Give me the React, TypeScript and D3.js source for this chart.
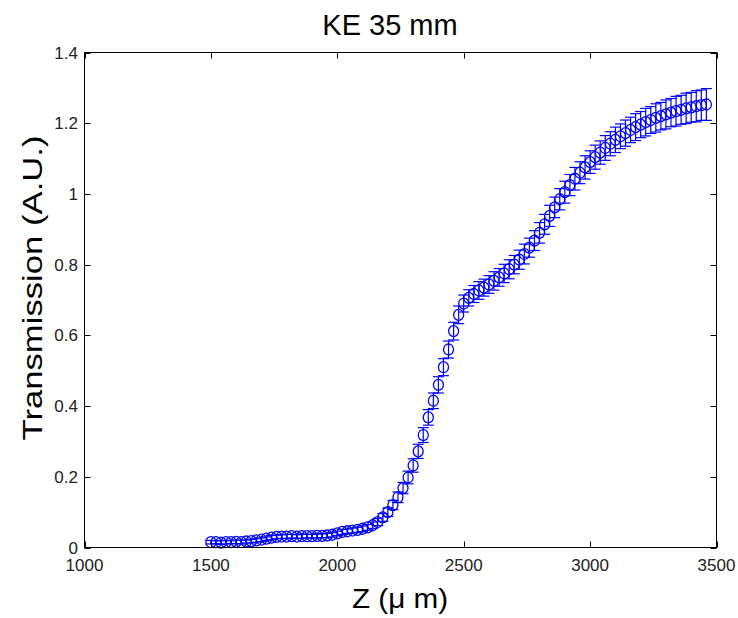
import React from "react";
import * as d3 from "d3";

// Scan positions (µm)
const zPositions: number[] = [
  1500, 1520, 1540, 1560, 1580, 1600, 1620, 1640, 1660, 1680,
  1700, 1720, 1740, 1760, 1780, 1800, 1820, 1840, 1860, 1880,
  1900, 1920, 1940, 1960, 1980, 2000, 2020, 2040, 2060, 2080,
  2100, 2120, 2140, 2160, 2180, 2200, 2220, 2240, 2260, 2280,
  2300, 2320, 2340, 2360, 2380, 2400, 2420, 2440, 2460, 2480,
  2500, 2520, 2540, 2560, 2580, 2600, 2620, 2640, 2660, 2680,
  2700, 2720, 2740, 2760, 2780, 2800, 2820, 2840, 2860, 2880,
  2900, 2920, 2940, 2960, 2980, 3000, 3020, 3040, 3060, 3080,
  3100, 3120, 3140, 3160, 3180, 3200, 3220, 3240, 3260, 3280,
  3300, 3320, 3340, 3360, 3380, 3400, 3420, 3440, 3460,
];

// Measured transmission (A.U.)
const transmission: number[] = [
  0.015, 0.015, 0.014, 0.015, 0.015, 0.016, 0.015, 0.017, 0.018, 0.020,
  0.022, 0.025, 0.028, 0.030, 0.031, 0.031, 0.032, 0.031, 0.032, 0.032,
  0.032, 0.033, 0.033, 0.034, 0.036, 0.040, 0.044, 0.046, 0.048, 0.050,
  0.053, 0.057, 0.063, 0.072, 0.085, 0.100, 0.120, 0.142, 0.168, 0.198,
  0.232, 0.272, 0.318, 0.368, 0.415, 0.460, 0.510, 0.560, 0.612, 0.658,
  0.690, 0.706, 0.717, 0.727, 0.735, 0.744, 0.754, 0.764, 0.775, 0.787,
  0.800, 0.814, 0.830, 0.848, 0.868, 0.890, 0.914, 0.938, 0.962, 0.985,
  1.005, 1.025, 1.043, 1.060, 1.075, 1.090, 1.104, 1.117, 1.130, 1.142,
  1.153, 1.163, 1.172, 1.181, 1.189, 1.196, 1.203, 1.209, 1.215, 1.220,
  1.225, 1.230, 1.234, 1.238, 1.242, 1.245, 1.248, 1.251, 1.253,
];

// Standard deviation of each measurement
const errors: number[] = [
  0.005, 0.004, 0.005, 0.005, 0.004, 0.005, 0.005, 0.004, 0.005, 0.005,
  0.005, 0.005, 0.006, 0.005, 0.005, 0.006, 0.005, 0.005, 0.006, 0.005,
  0.005, 0.006, 0.005, 0.006, 0.006, 0.006, 0.007, 0.006, 0.007, 0.007,
  0.008, 0.008, 0.009, 0.010, 0.011, 0.012, 0.013, 0.015, 0.016, 0.018,
  0.019, 0.020, 0.021, 0.022, 0.022, 0.023, 0.024, 0.024, 0.025, 0.025,
  0.024, 0.023, 0.024, 0.025, 0.024, 0.025, 0.026, 0.025, 0.026, 0.027,
  0.026, 0.027, 0.028, 0.027, 0.028, 0.029, 0.028, 0.030, 0.029, 0.030,
  0.031, 0.030, 0.032, 0.031, 0.033, 0.032, 0.034, 0.033, 0.035, 0.034,
  0.036, 0.035, 0.037, 0.036, 0.038, 0.037, 0.039, 0.038, 0.040, 0.039,
  0.041, 0.040, 0.042, 0.041, 0.043, 0.042, 0.044, 0.043, 0.045,
];

const xTicks: number[] = [1000, 1500, 2000, 2500, 3000, 3500];
const yTicks: number[] = [0, 0.2, 0.4, 0.6, 0.8, 1, 1.2, 1.4];

const titleText = "KE 35 mm";
const xLabelText = "Z (\u03bc m)";
const yLabelText = "Transmission (A.U.)";

const W = 738;
const H = 618;
const left = 84.5;
const right = 716.5;
const top = 52.5;
const bottom = 547.5;
const tickLen = 6;
const capHalf = 5.5;
const markerRx = 5;
const markerRy = 5.5;
const blue = "#0000ff";
const font = "'Liberation Sans', Arial, Helvetica, sans-serif";

export default function App() {
  const x = d3.scaleLinear().domain([1000, 3500]).range([left, right]);
  const y = d3.scaleLinear().domain([0, 1.4]).range([bottom, top]);
  const fmtY = (v: number) => (v === 0 ? "0" : d3.format("~g")(v));

  const points = zPositions.map((z, i) => ({
    z,
    v: transmission[i],
    e: errors[i],
  }));

  return (
    <svg
      width={W}
      height={H}
      viewBox={`0 0 ${W} ${H}`}
      style={{ position: "absolute", left: 0, top: 0, background: "#fff" }}
    >
      <rect x={0} y={0} width={W} height={H} fill="#fff" />

      {/* error bars */}
      <g stroke={blue} strokeWidth={1.2} fill="none">
        {points.map((p, i) => {
          const cx = x(p.z);
          const y1 = y(p.v - p.e);
          const y2 = y(p.v + p.e);
          return (
            <g key={`e${i}`}>
              <line x1={cx} x2={cx} y1={y1} y2={y2} />
              <line x1={cx - capHalf} x2={cx + capHalf} y1={y1} y2={y1} />
              <line x1={cx - capHalf} x2={cx + capHalf} y1={y2} y2={y2} />
            </g>
          );
        })}
      </g>

      {/* markers */}
      <g stroke={blue} strokeWidth={1.3} fill="none">
        {points.map((p, i) => (
          <ellipse key={`m${i}`} cx={x(p.z)} cy={y(p.v)} rx={markerRx} ry={markerRy} />
        ))}
      </g>

      {/* axes box */}
      <rect
        x={left}
        y={top}
        width={right - left}
        height={bottom - top}
        fill="none"
        stroke="#000"
        strokeWidth={1}
      />

      {/* ticks on all four sides, pointing inward */}
      <g stroke="#000" strokeWidth={1}>
        {xTicks.map((t) => (
          <g key={`xt${t}`}>
            <line x1={Math.round(x(t)) + 0.5} x2={Math.round(x(t)) + 0.5} y1={bottom} y2={bottom - tickLen} />
            <line x1={Math.round(x(t)) + 0.5} x2={Math.round(x(t)) + 0.5} y1={top} y2={top + tickLen} />
          </g>
        ))}
        {yTicks.map((t) => (
          <g key={`yt${t}`}>
            <line x1={left} x2={left + tickLen} y1={Math.round(y(t)) + 0.5} y2={Math.round(y(t)) + 0.5} />
            <line x1={right} x2={right - tickLen} y1={Math.round(y(t)) + 0.5} y2={Math.round(y(t)) + 0.5} />
          </g>
        ))}
      </g>

      {/* tick labels */}
      <g fontFamily={font} fontSize={17} fill="#222">
        {xTicks.map((t) => (
          <text key={`xl${t}`} x={x(t)} y={571} textAnchor="middle">
            {t}
          </text>
        ))}
        {yTicks.map((t) => (
          <text key={`yl${t}`} x={78} y={y(t) + 6} textAnchor="end">
            {fmtY(t)}
          </text>
        ))}
      </g>

      {/* title and axis labels */}
      <text
        x={390}
        y={35}
        textAnchor="middle"
        fontFamily={font}
        fontSize={29}
        fill="#000"
      >
        {titleText}
      </text>
      <text
        x={400}
        y={608}
        textAnchor="middle"
        fontFamily={font}
        fontSize={28}
        textLength={96}
        lengthAdjust="spacingAndGlyphs"
        fill="#000"
      >
        {xLabelText}
      </text>
      <text
        transform={`translate(42, 288) rotate(-90)`}
        textAnchor="middle"
        fontFamily={font}
        fontSize={28}
        textLength={305}
        lengthAdjust="spacingAndGlyphs"
        fill="#000"
      >
        {yLabelText}
      </text>
    </svg>
  );
}
